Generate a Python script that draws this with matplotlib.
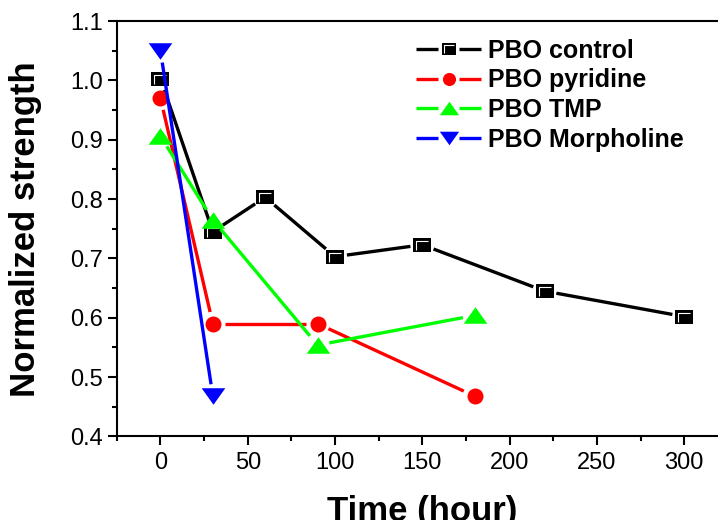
import numpy as np
import matplotlib
matplotlib.use("Agg")
import matplotlib.pyplot as plt
from matplotlib.path import Path
from matplotlib.lines import Line2D
from matplotlib.legend_handler import HandlerBase
from matplotlib.ticker import MultipleLocator, FormatStrFormatter

plt.rcParams['font.family'] = ['Liberation Sans', 'DejaVu Sans']

# 归一化强度随时间变化
t_control = [0, 30, 60, 100, 150, 220, 300]
s_control = [1.003, 0.745, 0.803, 0.703, 0.723, 0.645, 0.602]
t_pyridine = [0, 30, 90, 180]
s_pyridine = [0.970, 0.590, 0.590, 0.468]
t_tmp = [0, 30, 90, 180]
s_tmp = [0.906, 0.765, 0.554, 0.604]
t_morph = [0, 30]
s_morph = [1.050, 0.468]
labels = ['PBO control', 'PBO pyridine', 'PBO TMP', 'PBO Morpholine']
x_ticks = [0, 50, 100, 150, 200, 250, 300]
y_ticks = [0.4, 0.5, 0.6, 0.7, 0.8, 0.9, 1.0, 1.1]

# 标记形状（略宽于高）
MOVE, LINE, CLOSE = Path.MOVETO, Path.LINETO, Path.CLOSEPOLY
RECT = Path([(-1, -0.78), (1, -0.78), (1, 0.78), (-1, 0.78), (-1, -0.78)],
            [MOVE, LINE, LINE, LINE, CLOSE])
HILITE = Path([(-0.62, -0.55), (-0.62, 0.48), (0.7, 0.48)], [MOVE, LINE, LINE])
TRI_UP = Path([(-1, -0.7), (1, -0.7), (0, 0.7), (-1, -0.7)], [MOVE, LINE, LINE, CLOSE])
TRI_DN = Path([(-1, 0.7), (1, 0.7), (0, -0.7), (-1, 0.7)], [MOVE, LINE, LINE, CLOSE])

styles = [
    dict(color='black', marker=RECT, ms=13, hl=True),
    dict(color='#FF0000', marker='o', ms=11.5, hl=False),
    dict(color='#00FF00', marker=TRI_UP, ms=17, hl=False),
    dict(color='#0000FF', marker=TRI_DN, ms=17, hl=False),
]
LW = 2.4
GAP_PX = 12


def draw_markers(ax, x, y, st, z, scale=1.0):
    ax.plot(x, y, ls='none', marker=st['marker'], ms=st['ms'] * scale,
            mfc=st['color'], mec=st['color'], mew=0, zorder=z, clip_on=False)
    if st['hl']:
        ax.plot(x, y, ls='none', marker=HILITE, ms=st['ms'] * scale * 0.7,
                mfc='none', mec='white', mew=0.8, zorder=z + 0.1, clip_on=False)


def gapped_line(ax, x, y, color, z):
    # 线段两端留出与标记之间的空隙
    pts = ax.transData.transform(np.column_stack([x, y]))
    inv = ax.transData.inverted()
    for p0, p1 in zip(pts[:-1], pts[1:]):
        d = p1 - p0
        L = np.hypot(*d)
        if L <= 2 * GAP_PX:
            continue
        u = d / L
        a, b = inv.transform(np.array([p0 + u * GAP_PX, p1 - u * GAP_PX]))
        ax.plot([a[0], b[0]], [a[1], b[1]], color=color, lw=LW,
                solid_capstyle='butt', zorder=z)


class GapHandler(HandlerBase):
    def __init__(self, st, gap=7.6, scale=0.82):
        super().__init__()
        self.st = st
        self.gap = gap
        self.scale = scale

    def create_artists(self, legend, orig_handle, xdescent, ydescent,
                       width, height, fontsize, trans):
        st = self.st
        y = height / 2 - ydescent
        x0 = -xdescent
        x1 = x0 + width
        xm = 0.5 * (x0 + x1)
        arts = [
            Line2D([x0, xm - self.gap], [y, y], color=st['color'], lw=LW, solid_capstyle='butt'),
            Line2D([xm + self.gap, x1], [y, y], color=st['color'], lw=LW, solid_capstyle='butt'),
            Line2D([xm], [y], ls='none', marker=st['marker'], ms=st['ms'] * self.scale,
                   mfc=st['color'], mec=st['color'], mew=0),
        ]
        if st['hl']:
            arts.append(Line2D([xm], [y], ls='none', marker=HILITE,
                               ms=st['ms'] * self.scale * 0.7,
                               mfc='none', mec='white', mew=0.8))
        for a in arts:
            a.set_transform(trans)
        return arts


fig = plt.figure(figsize=(7.18, 5.2), dpi=100)
ax = fig.add_axes([0.1627, 0.1606, 0.851, 0.799])
ax.set_xlim(-25, 325)
ax.set_ylim(0.4, 1.1)

series = [(t_control, s_control), (t_pyridine, s_pyridine), (t_tmp, s_tmp), (t_morph, s_morph)]
for i, ((x, y), st) in enumerate(zip(series, styles)):
    z = 3 + i
    gapped_line(ax, x, y, st['color'], z)
    draw_markers(ax, x, y, st, z + 0.5)

# 坐标轴样式
for side in ['left', 'bottom', 'top', 'right']:
    ax.spines[side].set_linewidth(1.5)
ax.set_xticks(x_ticks)
ax.set_yticks(y_ticks)
ax.xaxis.set_minor_locator(MultipleLocator(25))
ax.yaxis.set_minor_locator(MultipleLocator(0.05))
ax.yaxis.set_major_formatter(FormatStrFormatter('%.1f'))
ax.tick_params(which='both', direction='out', width=1.5, top=False, right=False)
ax.tick_params(which='major', length=6.5, labelsize=17)
ax.tick_params(which='minor', length=3.5)
ax.tick_params(axis='x', pad=4.5)
ax.tick_params(axis='y', pad=3.5)

ax.set_xlabel('Time (hour)', fontsize=25, fontweight='bold')
ax.set_ylabel('Normalized strength', fontsize=25, fontweight='bold')
ax.xaxis.set_label_coords(0.5, -0.14)
ax.yaxis.set_label_coords(-0.122, 0.5)

proxies = [Line2D([], [], color=st['color']) for st in styles]
ax.legend(proxies, labels, handler_map={p: GapHandler(st) for p, st in zip(proxies, styles)},
          loc='upper left', bbox_to_anchor=(416 / 718, 1 - 39 / 520),
          bbox_transform=fig.transFigure, frameon=False, borderpad=0,
          borderaxespad=0, handlelength=2.6, handletextpad=0.28,
          labelspacing=0.22, prop=dict(weight='bold', size=18))

fig.savefig('out.png', dpi=100)
